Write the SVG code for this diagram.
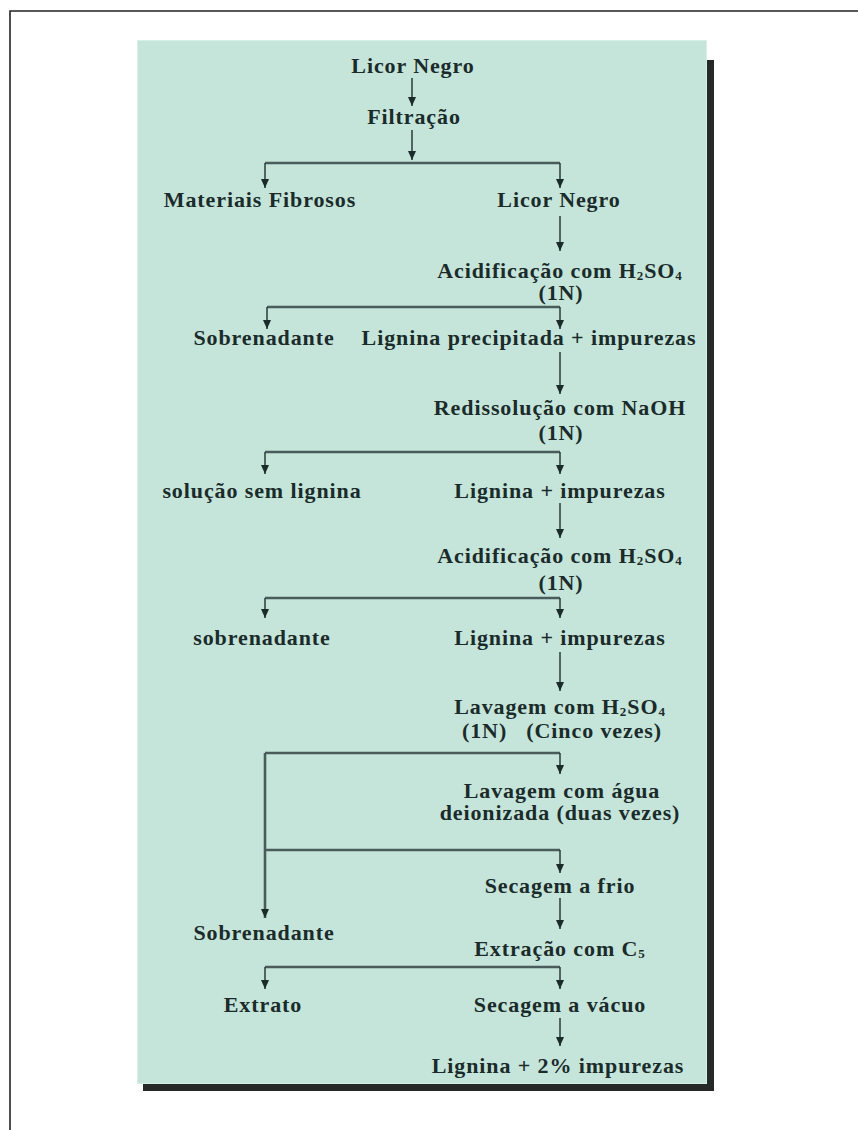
<svg xmlns="http://www.w3.org/2000/svg" width="858" height="1130" viewBox="0 0 858 1130">
<style>
.t{font-family:"Liberation Serif","Times New Roman",serif;font-weight:bold;font-size:22px;letter-spacing:0.9px;fill:#1b2b2a;text-anchor:middle}
.pre{white-space:pre}
.sub{font-size:13px}
.h{fill:none;stroke:#4a5c59;stroke-width:2.6}
.v{fill:none;stroke:#2a3a38;stroke-width:1.5;marker-end:url(#ah)}
.vl{fill:none;stroke:#4a5c59;stroke-width:2.6;marker-end:url(#ah)}
</style>
<defs>
<marker id="ah" markerUnits="userSpaceOnUse" markerWidth="9" markerHeight="8" refX="9" refY="4" orient="auto" viewBox="0 0 9 8">
<path d="M0,0 L9,4 L0,8 z" fill="#1b2b2a"/>
</marker>
</defs>
<rect x="0" y="0" width="858" height="1130" fill="#ffffff"/>
<path d="M10,1130 V11 H858" fill="none" stroke="#222" stroke-width="1.6"/>
<rect x="143" y="60" width="571" height="1031" fill="#252a29"/>
<rect x="137" y="40" width="570" height="1044" fill="#c5e5db"/>
<rect x="137.5" y="40.5" width="569" height="1043" fill="none" stroke="#d6efe8" stroke-width="1"/>
<g id="connectors">
<path class="v" d="M412,78 V106"/>
<path class="v" d="M412,130 V160"/>
<path class="h" d="M265,163 H560"/>
<path class="v" d="M265,163 V188"/>
<path class="v" d="M560,163 V188"/>
<path class="v" d="M560,216 V251"/>
<path class="h" d="M267,307 H560"/>
<path class="v" d="M267,307 V329"/>
<path class="v" d="M560,307 V329"/>
<path class="v" d="M560,352 V394"/>
<path class="h" d="M265,452 H560"/>
<path class="v" d="M265,452 V474"/>
<path class="v" d="M560,452 V474"/>
<path class="v" d="M560,503 V538"/>
<path class="h" d="M265,598 H560"/>
<path class="v" d="M265,598 V618"/>
<path class="v" d="M560,598 V618"/>
<path class="v" d="M560,652 V691"/>
<path class="h" d="M265,753 H560"/>
<path class="v" d="M560,753 V774"/>
<path class="vl" d="M265,753 V918"/>
<path class="h" d="M265,850 H560"/>
<path class="v" d="M560,850 V873"/>
<path class="v" d="M560,898 V929"/>
<path class="h" d="M265,967 H560"/>
<path class="v" d="M265,967 V989"/>
<path class="v" d="M560,967 V989"/>
<path class="v" d="M560,1018 V1046"/>
</g>
<g id="n-licor-negro-1"><text class="t" x="413" y="73">Licor Negro</text></g>
<g id="n-filtracao"><text class="t" x="414" y="124">Filtração</text></g>
<g id="n-materiais-fibrosos"><text class="t" x="260" y="207">Materiais Fibrosos</text></g>
<g id="n-licor-negro-2"><text class="t" x="559" y="207">Licor Negro</text></g>
<g id="n-acidificacao-1"><text class="t" x="560" y="278">Acidificação com H<tspan class="sub" dy="2">2</tspan><tspan dy="-2">SO</tspan><tspan class="sub" dy="2">4</tspan></text><text class="t" x="561" y="300">(1N)</text></g>
<g id="n-sobrenadante-1"><text class="t" x="264" y="345">Sobrenadante</text></g>
<g id="n-lignina-precipitada"><text class="t" x="529" y="345">Lignina precipitada + impurezas</text></g>
<g id="n-redissolucao"><text class="t" x="560" y="415">Redissolução com NaOH</text><text class="t" x="561" y="440">(1N)</text></g>
<g id="n-solucao-sem-lignina"><text class="t" x="262" y="498">solução sem lignina</text></g>
<g id="n-lignina-impurezas-1"><text class="t" x="560" y="498">Lignina + impurezas</text></g>
<g id="n-acidificacao-2"><text class="t" x="560" y="563">Acidificação com H<tspan class="sub" dy="2">2</tspan><tspan dy="-2">SO</tspan><tspan class="sub" dy="2">4</tspan></text><text class="t" x="561" y="590">(1N)</text></g>
<g id="n-sobrenadante-2"><text class="t" x="262" y="645">sobrenadante</text></g>
<g id="n-lignina-impurezas-2"><text class="t" x="560" y="645">Lignina + impurezas</text></g>
<g id="n-lavagem-h2so4"><text class="t" x="560" y="714">Lavagem com H<tspan class="sub" dy="2">2</tspan><tspan dy="-2">SO</tspan><tspan class="sub" dy="2">4</tspan></text><text class="t pre" x="562" y="738">(1N)   (Cinco vezes)</text></g>
<g id="n-lavagem-agua"><text class="t" x="562" y="798">Lavagem com água</text><text class="t" x="560" y="820">deionizada (duas vezes)</text></g>
<g id="n-secagem-frio"><text class="t" x="560" y="893">Secagem a frio</text></g>
<g id="n-sobrenadante-3"><text class="t" x="264" y="940">Sobrenadante</text></g>
<g id="n-extracao"><text class="t" x="560" y="956">Extração com C<tspan class="sub" dy="2">5</tspan></text></g>
<g id="n-extrato"><text class="t" x="263" y="1012">Extrato</text></g>
<g id="n-secagem-vacuo"><text class="t" x="560" y="1012">Secagem a vácuo</text></g>
<g id="n-lignina-final"><text class="t" x="558" y="1073">Lignina + 2% impurezas</text></g>
</svg>
